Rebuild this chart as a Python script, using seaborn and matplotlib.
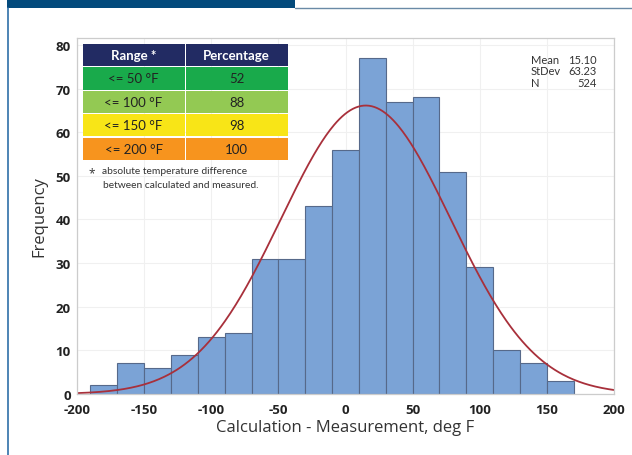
import numpy as np
import pandas as pd
import matplotlib
matplotlib.use("Agg")
import matplotlib.pyplot as plt
import seaborn as sns
from matplotlib.patches import Rectangle

sns.set_theme(style="white")
plt.rcParams['font.family'] = ['Open Sans', 'DejaVu Sans']

# ---- data ----
bin_edges = [-190, -170, -150, -130, -110, -90, -70, -50, -30, -10, 10, 30, 50, 70, 90, 110, 130, 150, 170]
counts = [2, 7, 6, 9, 13, 14, 31, 31, 43, 56, 77, 67, 68, 51, 29, 10, 7, 3]
mean_val = 15.10
std_val = 63.23
n_val = 524
range_labels = ["<= 50 °F", "<= 100 °F", "<= 150 °F", "<= 200 °F"]
percentages = ["52", "88", "98", "100"]
row_colors = ["#19AA4B", "#93C953", "#F8E517", "#F7941E"]
x_ticks = [-200, -150, -100, -50, 0, 50, 100, 150, 200]
y_ticks = [0, 10, 20, 30, 40, 50, 60, 70, 80]

W, H = 632, 456
fig = plt.figure(figsize=(W / 100, H / 100), dpi=100)
fig.patch.set_facecolor("white")

def fx(x):
    return x / W

def fy(y):
    return 1 - y / H

ax_l, ax_r, ax_t, ax_b = 77, 614, 39, 395
ax = fig.add_axes([fx(ax_l), fy(ax_b), fx(ax_r - ax_l), (ax_b - ax_t) / H])

centers = [(a + b) / 2 for a, b in zip(bin_edges[:-1], bin_edges[1:])]
df = pd.DataFrame({"x": centers, "w": counts})
sns.histplot(data=df, x="x", weights="w", bins=bin_edges, ax=ax,
             color="#7BA3D6", edgecolor="#56698A", linewidth=0.8, alpha=1.0)

bw = bin_edges[1] - bin_edges[0]
xs = np.linspace(-200, 200, 400)
ys = n_val * bw / (std_val * np.sqrt(2 * np.pi)) * np.exp(-0.5 * ((xs - mean_val) / std_val) ** 2)
sns.lineplot(x=xs, y=ys, ax=ax, color="#A8303B", linewidth=1.3)

ax.set_xlim(-200, 200)
ax.set_ylim(0, 81.6)
ax.set_xticks(x_ticks)
ax.set_yticks(y_ticks)
ax.set_xticklabels([str(t) for t in x_ticks], fontweight="bold", fontsize=9.5, color="#222222")
ax.set_yticklabels([str(t) for t in y_ticks], fontweight="bold", fontsize=9.5, color="#222222")
ax.tick_params(axis="y", length=3, width=0.8, color="#BBBBBB", pad=1.5)
ax.tick_params(axis="x", length=3, width=0.8, color="#BBBBBB", pad=3.5)
ax.grid(True, color="#F0F0F0", linewidth=0.8)
ax.set_axisbelow(True)
for s in ax.spines.values():
    s.set_color("#CCCCCC")
    s.set_linewidth(0.9)
ax.set_xlabel("Calculation - Measurement, deg F", fontsize=12, color="#333333", labelpad=2)
ax.set_ylabel("Frequency", fontsize=12, color="#333333", labelpad=6)

# stats box
stat_names = ["Mean", "StDev", "N"]
stat_vals = [f"{mean_val:.2f}", f"{std_val:.2f}", f"{n_val}"]
for i, (nm, v) in enumerate(zip(stat_names, stat_vals)):
    yy = 60 + i * 11.6
    fig.text(fx(531), fy(yy), nm, fontsize=8, color="#333333", va="center", ha="left",
             family=["Lato", "DejaVu Sans"])
    fig.text(fx(597), fy(yy), v, fontsize=8, color="#333333", va="center", ha="right",
             family=["Lato", "DejaVu Sans"])

# table
tl, tm, tr = 82.7, 185, 287.7
rows = [(45, 66.7), (68.3, 90.7), (91.7, 114), (115, 137), (139, 160.7)]
header_color = "#222B63"
cells = [("Range *", "Percentage", header_color, "white", "bold")]
for lab, p, c in zip(range_labels, percentages, row_colors):
    cells.append((lab, p, c, "#222222", "normal"))
for (y0, y1), (a, b, c, tc, wt) in zip(rows, cells):
    for (x0, x1), txt in (((tl, tm - 0.5), a), ((tm + 0.5, tr), b)):
        fig.patches.append(Rectangle((fx(x0), fy(y1)), fx(x1 - x0), (y1 - y0) / H,
                                     transform=fig.transFigure, facecolor=c, edgecolor="none"))
        fig.text(fx((x0 + x1) / 2), fy((y0 + y1) / 2), txt, ha="center", va="center",
                 fontsize=9.5, color=tc, fontweight=wt, family=["Lato", "DejaVu Sans"])

fig.text(fx(88.5), fy(174), "*", fontsize=8.5, color="#333333", ha="left", va="center")
fig.text(fx(101.5), fy(172), "absolute temperature difference", fontsize=7.4, color="#333333",
         ha="left", va="center", family=["Lato", "DejaVu Sans"])
fig.text(fx(103), fy(186), "between calculated and measured.", fontsize=7.4, color="#333333",
         ha="left", va="center", family=["Lato", "DejaVu Sans"])

# page frame elements
fig.patches.append(Rectangle((fx(7), fy(9)), fx(288), 9 / H, transform=fig.transFigure,
                             facecolor="#034A7C", edgecolor="none"))
fig.lines.append(plt.Line2D([fx(7.5), fx(7.5)], [fy(9), 0], transform=fig.transFigure,
                            color="#2F6FA8", linewidth=1.2))
fig.lines.append(plt.Line2D([fx(295), 1], [fy(9.3), fy(9.3)], transform=fig.transFigure,
                            color="#6A8AA6", linewidth=1.0))

fig.savefig("out.png", dpi=100, facecolor="white")
